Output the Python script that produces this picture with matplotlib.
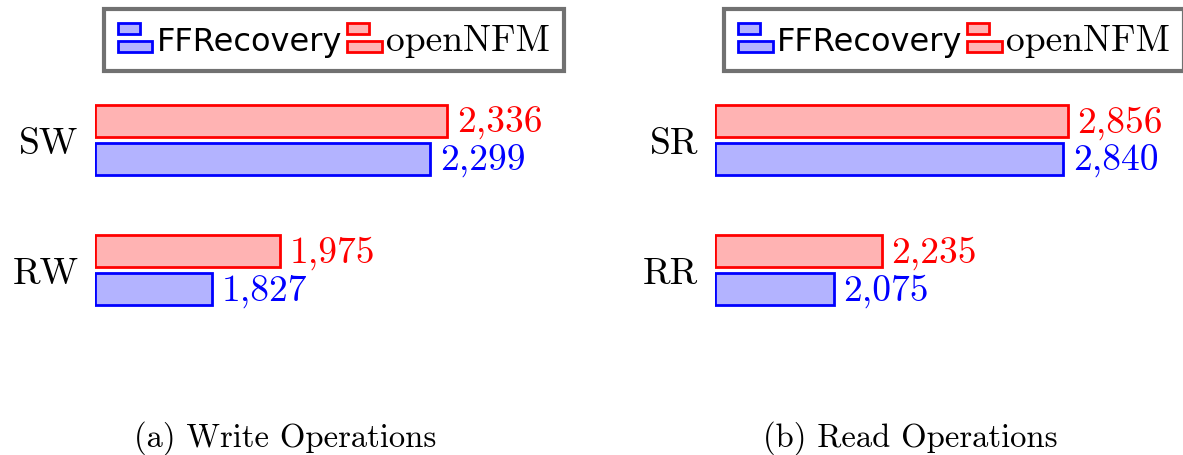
import matplotlib.pyplot as plt
from matplotlib.legend_handler import HandlerBase
from matplotlib.patches import Rectangle
import numpy as np

plt.rcParams['font.family'] = 'cmr10'
plt.rcParams['axes.formatter.use_mathtext'] = True

series = ['FFRecovery', 'openNFM']
write_cats = ['SW', 'RW']
write_ffr = [2299, 1827]
write_nfm = [2336, 1975]
read_cats = ['SR', 'RR']
read_ffr = [2840, 2075]
read_nfm = [2856, 2235]
captions = ['(a) Write Operations', '(b) Read Operations']

edge = {'FFRecovery': (0, 0, 1), 'openNFM': (1, 0, 0)}
fill = {'FFRecovery': (0.7, 0.7, 1), 'openNFM': (1, 0.7, 0.7)}


class BarHandler(HandlerBase):
    # pgfplots-style legend image: two stacked bars, the top one shorter
    def create_artists(self, legend, orig, xd, yd, w, h, fs, trans):
        p = orig.patches[0]
        fc = p.get_facecolor()
        ec = p.get_edgecolor()
        x = -xd
        y = -yd
        r1 = Rectangle((x, y + h * 0.6), w * 0.63, h * 0.38, fc=fc, ec=ec, lw=2, transform=trans)
        r2 = Rectangle((x, y), w, h * 0.37, fc=fc, ec=ec, lw=2, transform=trans)
        return [r1, r2]


W, H = 1183, 456
fig = plt.figure(figsize=(W / 100, H / 100), dpi=100)

panels = [
    (write_cats, write_ffr, write_nfm, 95, 1575, 0.4626, 285),
    (read_cats, read_ffr, read_nfm, 715, 1678, 0.2995, 910),
]
ax_w = 450
top_px, bot_px = 80, 340
fs = 27
for i, (cats, ffr, nfm, left_px, x0, k, cap_x) in enumerate(panels):
    ax = fig.add_axes([left_px / W, 1 - bot_px / H, ax_w / W, (bot_px - top_px) / H])
    ax.set_xlim(x0, x0 + ax_w / k)
    ax.set_ylim(-(bot_px - 271) / 130, 1 + (141 - top_px) / 130)
    y = np.array([1, 0])
    hb = 0.245
    off = 0.148
    b1 = ax.barh(y - off, np.array(ffr) - x0, left=x0, height=hb,
                 color=fill['FFRecovery'], edgecolor=edge['FFRecovery'], lw=2, label=series[0])
    b2 = ax.barh(y + off, np.array(nfm) - x0, left=x0, height=hb,
                 color=fill['openNFM'], edgecolor=edge['openNFM'], lw=2, label=series[1])
    for yy, v in zip(y - off, ffr):
        ax.annotate(f'{v:,}', (v, yy), xytext=(7, -1), textcoords='offset points',
                    va='center', ha='left', color=edge['FFRecovery'], fontsize=fs)
    for yy, v in zip(y + off, nfm):
        ax.annotate(f'{v:,}', (v, yy), xytext=(7, -1), textcoords='offset points',
                    va='center', ha='left', color=edge['openNFM'], fontsize=fs)
    ax.set_yticks(y)
    ax.set_yticklabels(cats, fontsize=fs)
    ax.tick_params(axis='y', length=0, pad=12)
    ax.set_xticks([])
    for s in ax.spines.values():
        s.set_visible(False)
    ax.patch.set_alpha(0)

    leg = ax.legend(handles=[b1, b2], loc='center', ncol=2,
                    bbox_to_anchor=((left_px + 239) / W, 1 - 41 / H),
                    bbox_transform=fig.transFigure,
                    handler_map={b1: BarHandler(), b2: BarHandler()},
                    fontsize=fs, frameon=True, fancybox=False,
                    handlelength=0.93, handleheight=0.8, handletextpad=0.12,
                    columnspacing=0.12, borderpad=0.36, borderaxespad=0)
    leg.get_frame().set_edgecolor((0.3, 0.3, 0.3))
    leg.get_frame().set_linewidth(3)
    t1, t2 = leg.get_texts()
    t1.set_family('DejaVu Sans')
    t1.set_fontsize(23)

    fig.text(cap_x / W, 1 - 438 / H, captions[i], ha='center', va='center', fontsize=23.5)

fig.savefig('out.png', dpi=100)
